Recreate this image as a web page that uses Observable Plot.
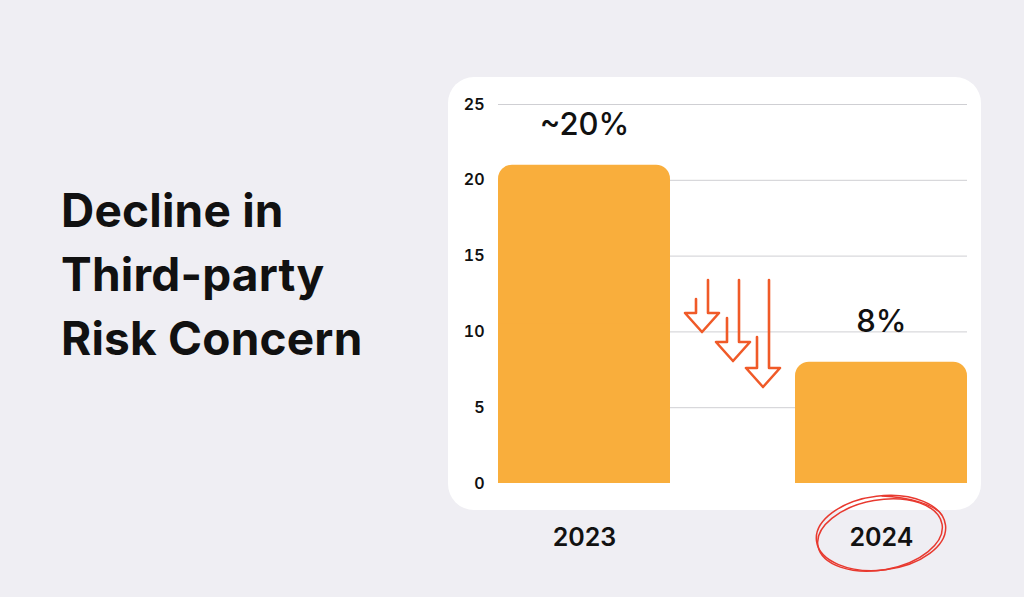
<!DOCTYPE html>
<html>
<head>
<meta charset="utf-8">
<script src="https://cdn.jsdelivr.net/npm/d3@7"></script>
<script src="https://cdn.jsdelivr.net/npm/@observablehq/plot@0.6"></script>
<style>
  html, body { margin: 0; padding: 0; }
  body { width: 1024px; height: 597px; background: #efeef3; position: relative; overflow: hidden; font-family: Inter, "Noto Sans", sans-serif; }
  #title { position: absolute; left: 61px; top: 178px; font-size: 46px; line-height: 64px; font-weight: 700; color: #111; letter-spacing: 0.2px; }
  #panel { position: absolute; left: 448px; top: 77px; width: 533px; height: 433px; background: #fff; border-radius: 26px; }
  #chart { position: absolute; left: 0; top: 0; }
  #deco { position: absolute; left: 0; top: 0; pointer-events: none; }
</style>
</head>
<body>
<div id="title">Decline in<br>Third-party<br>Risk Concern</div>
<div id="panel"></div>
<div id="chart"></div>
<svg id="deco" width="1024" height="597"></svg>
<script>
// ---- data ----
const years = ["2023", "2024"];
const values = [21, 8];
const valueLabels = ["~20%", "8%"];
const yTicks = [0, 5, 10, 15, 20, 25];
const gridTicks = [5, 10, 15, 20, 25];

const data = years.map((year, i) => ({year, value: values[i], label: valueLabels[i]}));

const barColor = "#f9ae3c";

const chart = Plot.plot({
  width: 1024,
  height: 597,
  marginLeft: 498,
  marginRight: 57,
  marginTop: 104,
  marginBottom: 114,
  style: {background: "transparent", color: "#111", fontFamily: "Inter, 'Noto Sans', sans-serif"},
  x: {domain: years, paddingInner: 0.421, paddingOuter: 0, label: null},
  y: {domain: [0, 25], label: null},
  marks: [
    Plot.ruleY(gridTicks, {stroke: "#cfcfd3", strokeWidth: 1}),
    Plot.barY(data, {x: "year", y: "value", fill: barColor, rx: 14}),
    Plot.barY(data, {x: "year", y1: 0, y2: d => d.value / 2, fill: barColor}),
    Plot.text(data, {x: "year", y: "value", text: "label", dy: -30, lineAnchor: "bottom", fontSize: 31, fontWeight: 500, fill: "#111"}),
    Plot.axisY({ticks: yTicks, tickSize: 0, tickPadding: 14, fontSize: 16, fontWeight: 600, label: null}),
    Plot.axisX({tickSize: 0, tickPadding: 45, fontSize: 25, fontWeight: 600, label: null})
  ]
});
document.getElementById("chart").appendChild(chart);

// ---- decorations (arrows and hand-drawn circle) ----
const deco = d3.select("#deco");
const arrowSpecs = [
  {xl: 696, xr: 708, topR: 280, topL: 299, headTop: 313, tip: 332},
  {xl: 727, xr: 739, topR: 280, topL: 318, headTop: 342, tip: 361},
  {xl: 757, xr: 769, topR: 280, topL: 337, headTop: 368, tip: 387}
];
arrowSpecs.forEach(a => {
  const cx = (a.xl + a.xr) / 2;
  const p = d3.path();
  p.moveTo(a.xr, a.topR);
  p.lineTo(a.xr, a.headTop);
  p.lineTo(a.xr + 11, a.headTop);
  p.lineTo(cx, a.tip);
  p.lineTo(a.xl - 11, a.headTop);
  p.lineTo(a.xl, a.headTop);
  p.lineTo(a.xl, a.topL);
  deco.append("path").attr("d", p.toString())
    .attr("fill", "none").attr("stroke", "#f05a28").attr("stroke-width", 2.6)
    .attr("stroke-linejoin", "round").attr("stroke-linecap", "round");
});

// hand-drawn loop around 2024
const loops = [
  {cx: 881, cy: 533, rx: 65, ry: 37, rot: -7},
  {cx: 880, cy: 535, rx: 63, ry: 35, rot: -10}
];
loops.forEach(l => {
  deco.append("ellipse")
    .attr("cx", l.cx).attr("cy", l.cy).attr("rx", l.rx).attr("ry", l.ry)
    .attr("transform", `rotate(${l.rot} ${l.cx} ${l.cy})`)
    .attr("fill", "none").attr("stroke", "#e8392f").attr("stroke-width", 1.5);
});
deco.append("path").attr("d", "M882,496 C910,497 935,505 942,515")
  .attr("fill", "none").attr("stroke", "#e8392f").attr("stroke-width", 1.3).attr("stroke-linecap", "round");
</script>
</body>
</html>
